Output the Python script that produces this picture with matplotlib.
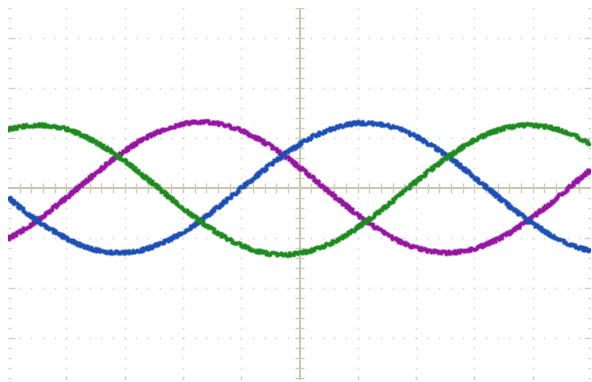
import matplotlib
matplotlib.use("Agg")
import numpy as np
import matplotlib.pyplot as plt
import matplotlib.patheffects as pe

# time axis in screen divisions (0..10), sampled every 0.25 div
time_div = [0.0, 0.25, 0.5, 0.75, 1.0, 1.25, 1.5, 1.75, 2.0, 2.25, 2.5, 2.75,
            3.0, 3.25, 3.5, 3.75, 4.0, 4.25, 4.5, 4.75, 5.0, 5.25, 5.5, 5.75,
            6.0, 6.25, 6.5, 6.75, 7.0, 7.25, 7.5, 7.75, 8.0, 8.25, 8.5, 8.75,
            9.0, 9.25, 9.5, 9.75, 10.0]

# channel readings in vertical divisions (0 = centre line)
ch_green = [1.17, 1.23, 1.26, 1.24, 1.18, 1.07, 0.92, 0.75, 0.54, 0.31, 0.08,
            -0.17, -0.40, -0.63, -0.83, -1.01, -1.15, -1.26, -1.32, -1.34, -1.31,
            -1.24, -1.13, -0.98, -0.79, -0.58, -0.36, -0.12, 0.13, 0.36, 0.58,
            0.78, 0.96, 1.09, 1.19, 1.25, 1.26, 1.22, 1.15, 1.03, 0.87]
ch_magenta = [-1.02, -0.85, -0.65, -0.43, -0.20, 0.05, 0.29, 0.52, 0.74, 0.93, 1.08,
              1.20, 1.28, 1.32, 1.31, 1.25, 1.15, 1.01, 0.84, 0.64, 0.41,
              0.18, -0.07, -0.31, -0.54, -0.75, -0.94, -1.09, -1.20, -1.27, -1.30,
              -1.28, -1.22, -1.11, -0.97, -0.79, -0.58, -0.36, -0.12, 0.13, 0.37]
ch_blue = [-0.19, -0.43, -0.65, -0.84, -1.01, -1.15, -1.24, -1.29, -1.30, -1.26, -1.17,
           -1.05, -0.89, -0.70, -0.48, -0.25, -0.01, 0.23, 0.46, 0.68, 0.87,
           1.04, 1.16, 1.25, 1.30, 1.29, 1.25, 1.16, 1.03, 0.86, 0.67,
           0.45, 0.21, -0.03, -0.27, -0.50, -0.71, -0.90, -1.06, -1.18, -1.26]

# graticule
major_x = [1, 2, 3, 4, 6, 7, 8, 9]
major_y = [-3, -2, -1, 1, 2, 3]
X_MIN, X_MAX = 0.0, 10.0
Y_MIN, Y_MAX = -3.84, 3.6

W, H = 592, 382
fig = plt.figure(figsize=(W / 100, H / 100), dpi=100)
fig.patch.set_facecolor("white")
ax = fig.add_axes([8 / W, 2 / H, 583 / W, 372 / H])
ax.set_xlim(X_MIN, X_MAX)
ax.set_ylim(Y_MIN, Y_MAX)
ax.axis("off")

dot_c = "#d2d2d2"
minor_y = np.arange(-3.8, 3.61, 0.2)
minor_x = np.arange(0.2, 9.9, 0.2)

# dotted grid lines
for gx in major_x:
    ax.plot(np.full_like(minor_y, gx), minor_y, ls="none", marker="s", ms=1.1,
            mew=0, color=dot_c, zorder=1)
for gy in major_y:
    ax.plot(minor_x, np.full_like(minor_x, gy), ls="none", marker="s", ms=1.1,
            mew=0, color=dot_c, zorder=1)

# edge ticks
edge_c = "#d0d0d0"
ax.hlines(minor_y, X_MIN, X_MIN + 0.05, color=edge_c, lw=0.9, zorder=1)
ax.hlines(minor_y, X_MAX - 0.05, X_MAX, color=edge_c, lw=0.9, zorder=1)
ax.hlines(major_y, X_MIN, X_MIN + 0.12, color=edge_c, lw=1.0, zorder=1)
ax.hlines(major_y, X_MAX - 0.12, X_MAX, color=edge_c, lw=1.0, zorder=1)
ax.vlines(major_x, Y_MIN, Y_MIN + 0.08, color=edge_c, lw=1.0, zorder=1)

# centre crosshair with minor ticks
cross_c = "#c9c4ae"
tick_c = "#d0ccbb"
ax.axhline(0, color=cross_c, lw=1.4, zorder=2)
ax.axvline(5, color=cross_c, lw=1.4, zorder=2)
ax.vlines(minor_x, -0.1, 0.1, color=tick_c, lw=1.0, zorder=2)
ax.hlines(minor_y, 5 - 0.085, 5 + 0.085, color=tick_c, lw=1.0, zorder=2)

# traces (sketch params give the fuzzy look of a sampled scope trace)
def trace(vals, color, z):
    line, = ax.plot(time_div, vals, color=color, lw=2.2, solid_joinstyle="round",
                    solid_capstyle="butt", zorder=z,
                    path_effects=[pe.Stroke(linewidth=3.4, foreground=color, alpha=0.45),
                                  pe.Normal()])
    line.set_sketch_params(scale=1.5, length=1.5, randomness=2.0)

trace(ch_magenta, "#9515a2", 3)
trace(ch_blue, "#1c4fb3", 4)
trace(ch_green, "#1d8a1f", 5)

fig.savefig("out.png", dpi=100, facecolor="white")
